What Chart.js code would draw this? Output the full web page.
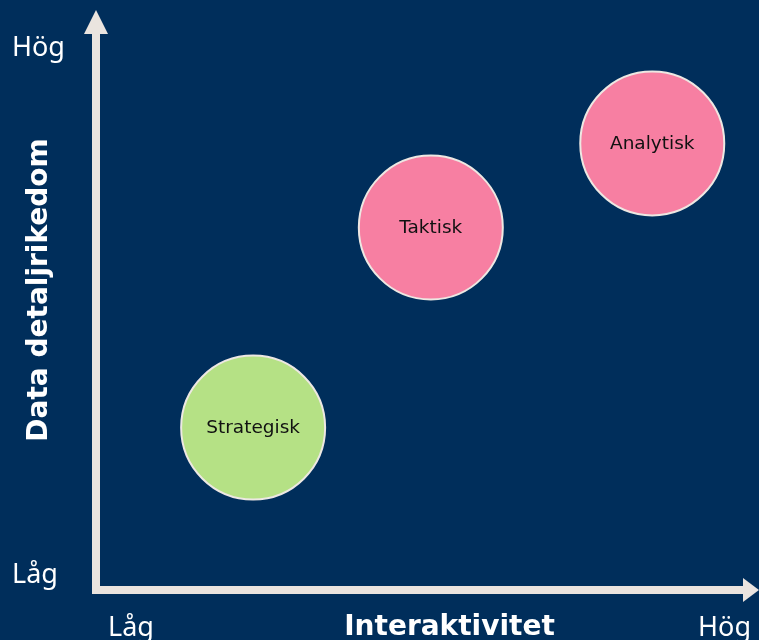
<!DOCTYPE html>
<html>
<head>
<meta charset="utf-8">
<script src="https://cdn.jsdelivr.net/npm/chart.js@4"></script>
<style>
  html, body { margin: 0; padding: 0; background: #002E5B; }
  #wrap { width: 759px; height: 640px; }
</style>
</head>
<body>
<div id="wrap"><canvas id="chart" width="759" height="640"></canvas></div>
<script>
// data (0..10 on both axes)
const categories = ['Strategisk', 'Taktisk', 'Analytisk'];
const interaktivitet = [2.37, 5.05, 8.39];
const detaljrikedom = [2.8, 6.25, 7.7];
const tickLabels = ['Låg', 'Hög'];
const xTitle = 'Interaktivitet';
const yTitle = 'Data detaljrikedom';

const bubbleColors = ['#B5E185', '#F77FA2', '#F77FA2'];
const axisColor = '#EAE4DF';

const points = categories.map((c, i) => ({ x: interaktivitet[i], y: detaljrikedom[i] }));

const axesPlugin = {
    id: 'arrowAxes',
    beforeDatasetsDraw(chart) {
        const ctx = chart.ctx;
        const xs = chart.scales.x, ys = chart.scales.y;
        const x0 = xs.getPixelForValue(xs.min);
        const y0 = ys.getPixelForValue(ys.min);
        const xEnd = xs.getPixelForValue(xs.max);
        const yEnd = ys.getPixelForValue(ys.max);
        ctx.save();
        ctx.fillStyle = axisColor;
        // vertical shaft + arrow
        ctx.fillRect(x0 - 4, yEnd + 22, 8, y0 - yEnd - 18);
        ctx.beginPath();
        ctx.moveTo(x0, yEnd);
        ctx.lineTo(x0 - 12, yEnd + 24);
        ctx.lineTo(x0 + 12, yEnd + 24);
        ctx.closePath();
        ctx.fill();
        // horizontal shaft + arrow
        ctx.fillRect(x0 - 4, y0 - 4, xEnd - x0 - 12, 8);
        ctx.beginPath();
        ctx.moveTo(xEnd, y0);
        ctx.lineTo(xEnd - 16, y0 - 12);
        ctx.lineTo(xEnd - 16, y0 + 12);
        ctx.closePath();
        ctx.fill();
        ctx.restore();
    },
    afterDraw(chart) {
        const ctx = chart.ctx;
        const area = chart.chartArea;
        const xs = chart.scales.x, ys = chart.scales.y;
        ctx.save();
        ctx.fillStyle = '#FFFFFF';
        ctx.font = '27px "Noto Sans", "Open Sans", sans-serif';
        ctx.textBaseline = 'alphabetic';
        // y tick labels
        ctx.textAlign = 'left';
        ctx.fillText(tickLabels[1], 12, ys.getPixelForValue(ys.max) + 46);
        ctx.fillText(tickLabels[0], 12, ys.getPixelForValue(ys.min) - 7);
        // x tick labels
        ctx.fillText(tickLabels[0], xs.getPixelForValue(xs.min) + 12, area.bottom + 46);
        ctx.textAlign = 'right';
        ctx.fillText(tickLabels[1], xs.getPixelForValue(xs.max) - 8, area.bottom + 46);
        // titles
        ctx.font = 'bold 28px "DejaVu Sans", Verdana, sans-serif';
        ctx.textAlign = 'center';
        ctx.fillText(xTitle, (area.left + area.right) / 2 + 22, area.bottom + 45);
        ctx.translate(47, (area.top + area.bottom) / 2 - 10);
        ctx.rotate(-Math.PI / 2);
        ctx.fillText(yTitle, 0, 0);
        ctx.restore();

        // bubble labels
        const meta = chart.getDatasetMeta(0);
        ctx.save();
        ctx.fillStyle = '#111111';
        ctx.font = '18.5px "DejaVu Sans", Verdana, sans-serif';
        ctx.textAlign = 'center';
        ctx.textBaseline = 'middle';
        meta.data.forEach((el, i) => {
            ctx.fillText(categories[i], el.x, el.y + 1);
        });
        ctx.restore();
    }
};

new Chart(document.getElementById('chart'), {
    type: 'bubble',
    data: {
        datasets: [{
            data: points,
            backgroundColor: bubbleColors,
            borderColor: '#EDE8E3',
            borderWidth: 2,
            radius: 72,
            hoverRadius: 0,
            clip: false
        }]
    },
    options: {
        responsive: false,
        animation: false,
        layout: { autoPadding: false, padding: { left: 96, right: 0, top: 10, bottom: 50 } },
        scales: {
            x: { min: 0, max: 10, display: false },
            y: { min: 0, max: 10, display: false }
        },
        plugins: {
            legend: { display: false },
            tooltip: { enabled: false }
        }
    },
    plugins: [axesPlugin]
});
</script>
</body>
</html>
